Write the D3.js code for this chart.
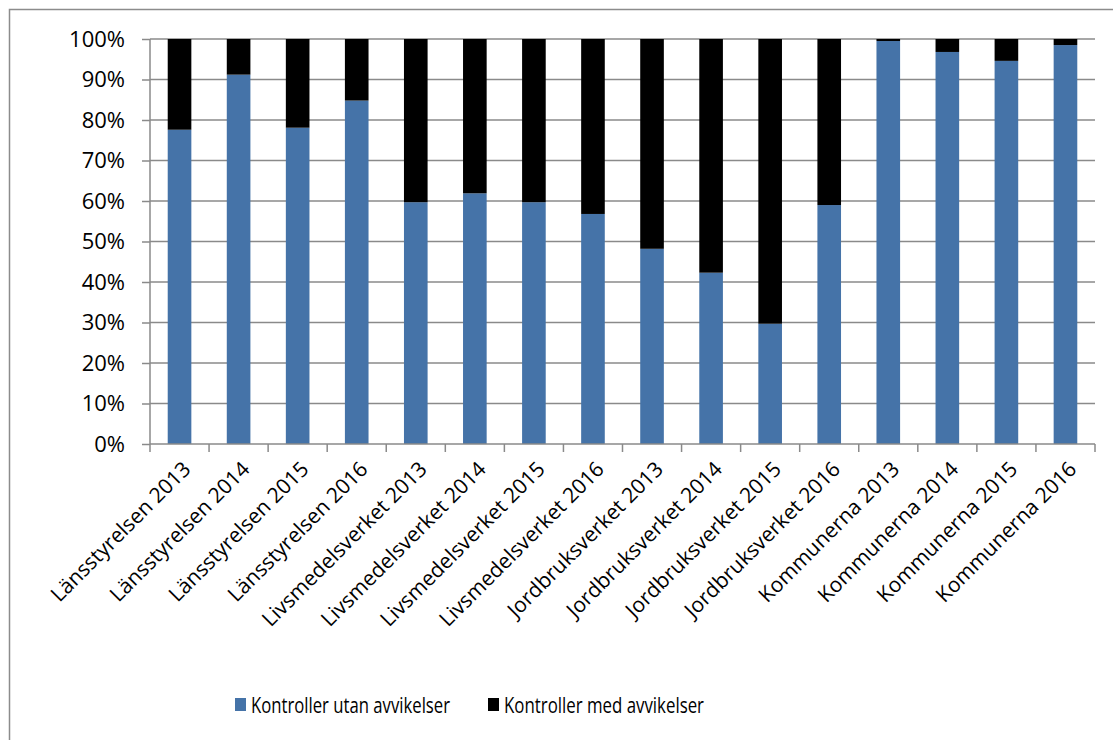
<!DOCTYPE html>
<html>
<head>
<meta charset="utf-8">
<script src="https://cdn.jsdelivr.net/npm/d3@7"></script>
<style>
  body { margin: 0; background: #fff; }
  svg { display: block; font-family: "Open Sans", sans-serif; }
</style>
</head>
<body>
<svg width="1113" height="740"></svg>
<script>
// categories along the x axis
const categories = [
  'Länsstyrelsen 2013', 'Länsstyrelsen 2014', 'Länsstyrelsen 2015', 'Länsstyrelsen 2016',
  'Livsmedelsverket 2013', 'Livsmedelsverket 2014', 'Livsmedelsverket 2015', 'Livsmedelsverket 2016',
  'Jordbruksverket 2013', 'Jordbruksverket 2014', 'Jordbruksverket 2015', 'Jordbruksverket 2016',
  'Kommunerna 2013', 'Kommunerna 2014', 'Kommunerna 2015', 'Kommunerna 2016'
];

// share (%) of controls
const utanAvvikelser = [77.6, 91.2, 78.1, 84.8, 59.7, 61.9, 59.7, 56.8, 48.2, 42.3, 29.7, 59.0, 99.5, 96.8, 94.6, 98.5];
const medAvvikelser  = [22.4, 8.8, 21.9, 15.2, 40.3, 38.1, 40.3, 43.2, 51.8, 57.7, 70.3, 41.0, 0.5, 3.2, 5.4, 1.5];

const seriesNames = ['Kontroller utan avvikelser', 'Kontroller med avvikelser'];
const seriesColors = ['#4573a8', '#000000'];
const yTicks = [0, 10, 20, 30, 40, 50, 60, 70, 80, 90, 100];

const svg = d3.select('svg');

// outer chart frame
svg.append('rect')
  .attr('x', 9.5).attr('y', 9.5)
  .attr('width', 1120).attr('height', 750)
  .attr('fill', 'none')
  .attr('stroke', '#8c8c8c')
  .attr('stroke-width', 1.5);

const plotLeft = 150, plotRight = 1095, plotTop = 39, plotBottom = 444;

const x = d3.scaleBand().domain(categories).range([plotLeft, plotRight]).paddingInner(0.6).paddingOuter(0.3);
const xb = d3.scaleBand().domain(categories).range([plotLeft, plotRight]); // for tick positions
const y = d3.scaleLinear().domain([0, 100]).range([plotBottom, plotTop]);

// gridlines
svg.append('g')
  .selectAll('line')
  .data(yTicks.filter(t => t > 0))
  .join('line')
  .attr('x1', plotLeft).attr('x2', plotRight)
  .attr('y1', d => y(d)).attr('y2', d => y(d))
  .attr('stroke', '#8a8a8a')
  .attr('stroke-width', 1.5);

// stacked bars
const rows = categories.map((c, i) => ({ cat: c, utan: utanAvvikelser[i], med: medAvvikelser[i] }));
const stack = d3.stack().keys(['utan', 'med'])(rows);

svg.append('g')
  .selectAll('g')
  .data(stack)
  .join('g')
  .attr('fill', (d, i) => seriesColors[i])
  .selectAll('rect')
  .data(d => d)
  .join('rect')
  .attr('x', d => x(d.data.cat))
  .attr('width', x.bandwidth())
  .attr('y', d => y(d[1]))
  .attr('height', d => y(d[0]) - y(d[1]));

// y axis
const yAxis = svg.append('g')
  .attr('transform', `translate(${plotLeft},0)`)
  .call(d3.axisLeft(y).tickValues(yTicks).tickSize(8).tickPadding(17).tickFormat(d => d + '%'));
yAxis.selectAll('line, path').attr('stroke', '#8a8a8a').attr('stroke-width', 1.5);
yAxis.select('.domain').attr('d', `M0,${plotTop}V${plotBottom}`);
yAxis.selectAll('text').attr('font-size', 22).attr('fill', '#000').attr('font-family', '"Open Sans", sans-serif');

// x axis line and ticks at category boundaries
const xAxis = svg.append('g');
xAxis.append('line')
  .attr('x1', plotLeft).attr('x2', plotRight)
  .attr('y1', plotBottom).attr('y2', plotBottom)
  .attr('stroke', '#8a8a8a').attr('stroke-width', 1.5);
xAxis.selectAll('.tick')
  .data(categories.concat(['end']))
  .join('line')
  .attr('x1', (d, i) => i < categories.length ? xb(d) : plotRight)
  .attr('x2', (d, i) => i < categories.length ? xb(d) : plotRight)
  .attr('y1', plotBottom).attr('y2', plotBottom + 8)
  .attr('stroke', '#8a8a8a').attr('stroke-width', 1.5);

// rotated category labels
xAxis.selectAll('text')
  .data(categories)
  .join('text')
  .attr('transform', d => `translate(${xb(d) + xb.bandwidth() / 2 + 2},${plotBottom + 16}) rotate(-45)`)
  .attr('text-anchor', 'end')
  .attr('dy', '0.7em')
  .attr('font-size', 21)
  .text(d => d);

// legend
const legend = svg.append('g');
const legendX = [235, 488];
const legendTextW = [199, 200];
seriesNames.forEach((name, i) => {
  const g = legend.append('g').attr('transform', `translate(${legendX[i]},705)`);
  g.append('rect').attr('x', 0).attr('y', -7).attr('width', 11).attr('height', 13).attr('fill', seriesColors[i]);
  g.append('text').attr('x', 16).attr('dy', '0.35em').attr('font-size', 22)
    .attr('textLength', legendTextW[i]).attr('lengthAdjust', 'spacingAndGlyphs')
    .text(name);
});
</script>
</body>
</html>
